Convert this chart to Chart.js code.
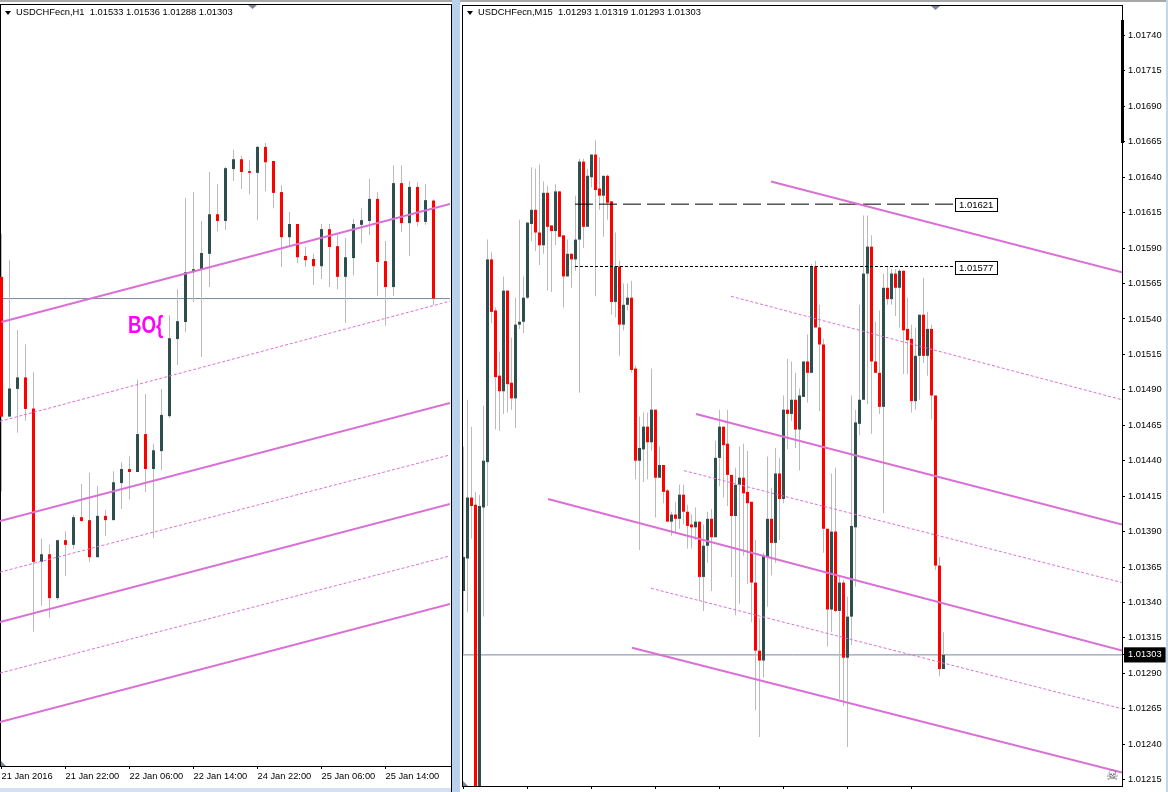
<!DOCTYPE html>
<html>
<head>
<meta charset="utf-8">
<script src="https://cdn.jsdelivr.net/npm/chart.js@4"></script>
<style>
html, body { margin: 0; padding: 0; background: #fff; overflow: hidden; }
body { width: 1168px; height: 792px; position: relative; }
canvas { position: absolute; top: 0; }
#h1Chart { left: 0; }
#m15Chart { left: 462px; }
.frame { position: absolute; }
.head { position: absolute; top: 7px; font: 9.35px "Liberation Sans", sans-serif; color: #000; white-space: pre; }
.tri { position: absolute; }
.down { clip-path: polygon(0 0, 100% 0, 50% 100%); }
.corner { clip-path: polygon(0 0, 100% 100%, 0 100%); background: #778899; }
</style>
</head>
<body>
<div class="frame" style="left:0;top:0;width:1168px;height:2px;background:#a8a8a8"></div>
<div class="frame" style="left:0;top:788px;width:451px;height:4px;background:#d3e2f2"></div>
<div class="frame" style="left:452px;top:0;width:8px;height:792px;background:#b9d1ea"></div>
<div class="frame" style="left:1166px;top:0;width:2px;height:792px;background:#c4d6ea"></div>
<div class="frame" style="left:0;top:4px;width:451px;height:1px;background:#000"></div>
<div class="frame" style="left:0;top:4px;width:1px;height:762px;background:#000"></div>
<div class="frame" style="left:451px;top:4px;width:1px;height:788px;background:#000"></div>
<div class="frame" style="left:462px;top:5px;width:661px;height:1px;background:#000"></div>
<div class="frame" style="left:462px;top:5px;width:1px;height:782px;background:#000"></div>
<div class="frame" style="left:1121px;top:20px;width:3px;height:123px;background:#000"></div>
<div class="tri down" style="left:5px;top:11px;width:6px;height:4px;background:#000"></div>
<div class="tri down" style="left:467px;top:11px;width:6px;height:4px;background:#000"></div>
<div class="tri down" style="left:248px;top:5px;width:9px;height:4px;background:#778899"></div>
<div class="tri down" style="left:931px;top:6px;width:9px;height:4px;background:#778899"></div>
<div class="tri corner" style="left:1px;top:761px;width:5px;height:5px"></div>
<div class="tri corner" style="left:463px;top:781px;width:5px;height:5px"></div>
<canvas id="h1Chart" width="451" height="788"></canvas>
<canvas id="m15Chart" width="706" height="792"></canvas>
<div class="head" id="h1Head" style="left:16px"></div>
<div class="head" id="m15Head" style="left:478px"></div>
<script>
const h1Title = "USDCHFecn,H1  1.01533 1.01536 1.01288 1.01303";
const m15Title = "USDCHFecn,M15  1.01293 1.01319 1.01293 1.01303";

const h1Open = [1.01354,1.01026,1.01091,1.01118,1.01045,1.00685,1.00703,1.00600,1.00736,1.00725,1.00790,1.00783,1.00696,1.00793,1.00783,1.00870,1.00903,1.00896,1.00985,1.00903,1.00945,1.01027,1.01208,1.01248,1.01365,1.01372,1.01408,1.01501,1.01485,1.01607,1.01630,1.01602,1.01598,1.01659,1.01626,1.01553,1.01447,1.01478,1.01403,1.01396,1.01379,1.01466,1.01426,1.01354,1.01398,1.01476,1.01485,1.01537,1.01391,1.01330,1.01574,1.01480,1.01565,1.01483,1.01533];
const h1Close = [1.01026,1.01092,1.01118,1.01044,1.00685,1.00703,1.00600,1.00736,1.00725,1.00790,1.00781,1.00696,1.00793,1.00783,1.00872,1.00903,1.00896,1.00985,1.00903,1.00947,1.01030,1.01210,1.01250,1.01365,1.01372,1.01410,1.01501,1.01485,1.01609,1.01630,1.01600,1.01598,1.01659,1.01623,1.01551,1.01447,1.01478,1.01400,1.01393,1.01379,1.01466,1.01424,1.01354,1.01400,1.01478,1.01487,1.01537,1.01389,1.01330,1.01574,1.01480,1.01565,1.01483,1.01534,1.01303];
const h1High = [1.01456,1.01393,1.01229,1.01196,1.01130,1.00740,1.00725,1.00736,1.00757,1.00795,1.00868,1.00894,1.00863,1.00807,1.00898,1.00919,1.00933,1.01113,1.01079,1.00962,1.01091,1.01264,1.01325,1.01539,1.01553,1.01485,1.01600,1.01572,1.01612,1.01652,1.01638,1.01628,1.01661,1.01668,1.01626,1.01569,1.01506,1.01478,1.01424,1.01408,1.01478,1.01478,1.01452,1.01445,1.01490,1.01515,1.01584,1.01553,1.01438,1.01616,1.01616,1.01579,1.01576,1.01572,1.01536];
const h1Low = [1.00850,1.01026,1.00988,1.01016,1.00521,1.00582,1.00554,1.00595,1.00652,1.00715,1.00779,1.00685,1.00696,1.00746,1.00783,1.00809,1.00832,1.00896,1.00849,1.00741,1.00900,1.01023,1.01147,1.01224,1.01295,1.01166,1.01330,1.01461,1.01464,1.01579,1.01560,1.01548,1.01487,1.01555,1.01515,1.01377,1.01424,1.01386,1.01377,1.01335,1.01349,1.01330,1.01325,1.01246,1.01358,1.01433,1.01452,1.01309,1.01239,1.01309,1.01459,1.01403,1.01473,1.01476,1.01288];

const m15Open = [1.01348,1.01371,1.01414,1.01409,1.01200,1.01407,1.01439,1.01582,1.01546,1.01500,1.01489,1.01560,1.01495,1.01484,1.01536,1.01538,1.01555,1.01607,1.01617,1.01601,1.01592,1.01629,1.01606,1.01602,1.01630,1.01599,1.01570,1.01586,1.01582,1.01596,1.01651,1.01605,1.01640,1.01656,1.01632,1.01627,1.01641,1.01623,1.01552,1.01577,1.01536,1.01550,1.01555,1.01505,1.01440,1.01448,1.01464,1.01453,1.01476,1.01428,1.01437,1.01419,1.01397,1.01402,1.01399,1.01416,1.01404,1.01395,1.01393,1.01397,1.01358,1.01380,1.01399,1.01386,1.01442,1.01464,1.01452,1.01430,1.01401,1.01423,1.01428,1.01418,1.01411,1.01354,1.01306,1.01299,1.01372,1.01399,1.01382,1.01431,1.01413,1.01476,1.01473,1.01483,1.01462,1.01485,1.01510,1.01502,1.01577,1.01534,1.01522,1.01392,1.01335,1.01390,1.01334,1.01354,1.01301,1.01330,1.01393,1.01466,1.01483,1.01572,1.01591,1.01510,1.01502,1.01478,1.01562,1.01554,1.01572,1.01562,1.01574,1.01533,1.01526,1.01482,1.01514,1.01543,1.01514,1.01533,1.01486,1.01366,1.01293];
const m15Close = [1.01372,1.01414,1.01408,1.01200,1.01408,1.01440,1.01582,1.01545,1.01499,1.01489,1.01560,1.01494,1.01484,1.01536,1.01538,1.01555,1.01608,1.01617,1.01601,1.01592,1.01629,1.01605,1.01602,1.01630,1.01598,1.01570,1.01586,1.01582,1.01596,1.01651,1.01605,1.01641,1.01656,1.01631,1.01627,1.01641,1.01622,1.01552,1.01577,1.01536,1.01550,1.01555,1.01504,1.01440,1.01449,1.01464,1.01453,1.01476,1.01428,1.01437,1.01418,1.01397,1.01402,1.01399,1.01416,1.01404,1.01394,1.01393,1.01397,1.01358,1.01380,1.01399,1.01386,1.01442,1.01464,1.01451,1.01430,1.01401,1.01423,1.01428,1.01417,1.01410,1.01354,1.01306,1.01299,1.01373,1.01399,1.01382,1.01431,1.01413,1.01476,1.01473,1.01483,1.01462,1.01486,1.01510,1.01502,1.01577,1.01534,1.01522,1.01392,1.01335,1.01390,1.01334,1.01354,1.01301,1.01330,1.01394,1.01467,1.01483,1.01572,1.01591,1.01510,1.01502,1.01478,1.01562,1.01554,1.01572,1.01562,1.01574,1.01532,1.01525,1.01482,1.01514,1.01543,1.01514,1.01533,1.01486,1.01366,1.01293,1.01303];
const m15High = [1.01450,1.01483,1.01464,1.01418,1.01416,1.01479,1.01596,1.01587,1.01548,1.01517,1.01570,1.01560,1.01527,1.01555,1.01610,1.01570,1.01608,1.01647,1.01646,1.01649,1.01637,1.01634,1.01606,1.01635,1.01630,1.01599,1.01596,1.01586,1.01627,1.01653,1.01653,1.01646,1.01656,1.01666,1.01654,1.01641,1.01642,1.01623,1.01601,1.01581,1.01565,1.01565,1.01567,1.01507,1.01471,1.01474,1.01474,1.01505,1.01476,1.01450,1.01437,1.01420,1.01404,1.01411,1.01423,1.01423,1.01409,1.01402,1.01407,1.01397,1.01395,1.01404,1.01406,1.01454,1.01476,1.01464,1.01476,1.01430,1.01435,1.01450,1.01452,1.01447,1.01411,1.01384,1.01329,1.01375,1.01443,1.01421,1.01449,1.01442,1.01486,1.01512,1.01510,1.01502,1.01491,1.01510,1.01529,1.01579,1.01581,1.01550,1.01526,1.01392,1.01431,1.01435,1.01358,1.01356,1.01344,1.01486,1.01476,1.01550,1.01613,1.01613,1.01599,1.01538,1.01546,1.01572,1.01577,1.01575,1.01575,1.01575,1.01574,1.01555,1.01536,1.01534,1.01543,1.01569,1.01545,1.01536,1.01486,1.01372,1.01319];
const m15Low = [1.01304,1.01333,1.01385,1.01200,1.01200,1.01330,1.01408,1.01537,1.01462,1.01461,1.01473,1.01474,1.01476,1.01463,1.01533,1.01530,1.01554,1.01595,1.01588,1.01578,1.01586,1.01560,1.01559,1.01592,1.01598,1.01548,1.01570,1.01562,1.01574,1.01488,1.01590,1.01605,1.01633,1.01556,1.01617,1.01598,1.01610,1.01543,1.01541,1.01514,1.01532,1.01546,1.01502,1.01427,1.01377,1.01425,1.01427,1.01447,1.01400,1.01428,1.01410,1.01397,1.01387,1.01389,1.01392,1.01395,1.01378,1.01378,1.01384,1.01341,1.01334,1.01368,1.01348,1.01386,1.01422,1.01414,1.01408,1.01358,1.01331,1.01339,1.01373,1.01353,1.01326,1.01264,1.01245,1.01287,1.01337,1.01359,1.01368,1.01384,1.01410,1.01448,1.01468,1.01449,1.01433,1.01485,1.01481,1.01502,1.01534,1.01475,1.01375,1.01309,1.01319,1.01333,1.01272,1.01267,1.01238,1.01310,1.01351,1.01458,1.01483,1.01480,1.01459,1.01502,1.01473,1.01403,1.01550,1.01550,1.01542,1.01534,1.01501,1.01501,1.01474,1.01476,1.01483,1.01509,1.01500,1.01469,1.01363,1.01288,1.01293];

const h1XLabels = ["21 Jan 2016","21 Jan 22:00","22 Jan 06:00","22 Jan 14:00","24 Jan 22:00","25 Jan 06:00","25 Jan 14:00"];
const h1XTicks = [0,8,16,24,32,40,48];
const m15XTicks = [0,16,32,48,64,80,96,112];
const m15YTicks = [1.01740,1.01715,1.01690,1.01665,1.01640,1.01615,1.01590,1.01565,1.01540,1.01515,1.01490,1.01465,1.01440,1.01415,1.01390,1.01365,1.01340,1.01315,1.01303,1.01290,1.01265,1.01240,1.01215];
const lastPrice = 1.01303;

// trendlines: [startBar, startPrice, endBar, endPrice]
const h1Solid = [[0,1.01248,56.06,1.01525],[-0.19,1.00781,56.06,1.01058],[-0.19,1.00544,56.06,1.00821],[-0.19,1.00309,56.06,1.00586]];
const h1Dashed = [[-0.19,1.01015,56.06,1.01297],[-0.19,1.00661,56.06,1.00936],[-0.19,1.00424,56.06,1.00699]];
const m15Solid = [[76.875,1.01637,164.625,1.01573],[58.125,1.01473,164.625,1.01395],[21.125,1.01413,164.625,1.01306],[42.125,1.01308,164.625,1.01220]];
const m15Dashed = [[66.875,1.01556,164.625,1.01483],[55.125,1.01433,164.625,1.01354],[46.875,1.01350,164.625,1.01265]];
const m15Levels = [1.01621,1.01577];
const levelStartBar = 27.875;
const levelEndBar = 122.875;

const bull = "#2f4f4f", bear = "#ff0000", wick = "#bbbbbb", trend = "#da70d6", bid = "#778899";

function candles(open, high, low, close) {
  return [
    {
      order: 2,
      stack: "candle",
      data: open.map((o, i) => ({ x: i, y: [low[i], high[i]] })),
      backgroundColor: wick,
      barThickness: 1,
      inflateAmount: 0,
    },
    {
      order: 1,
      stack: "candle",
      data: open.map((o, i) => ({ x: i, y: [Math.min(o, close[i]), Math.max(o, close[i])] })),
      backgroundColor: open.map((o, i) => (close[i] >= o ? bull : bear)),
      barThickness: 3,
      inflateAmount: 0,
    },
  ];
}

function line(seg, width, dash, color, order) {
  return {
    type: "line",
    order: order,
    data: [{ x: seg[0], y: seg[1] }, { x: seg[2], y: seg[3] }],
    borderColor: color,
    borderWidth: width,
    borderDash: dash,
    pointRadius: 0,
    fill: false,
  };
}

function trendlines(solid, dashed) {
  return solid.map((s) => line(s, 2, [], trend, 0)).concat(dashed.map((s) => line(s, 1, [3, 2], trend, 0)));
}

// chart objects that MT4 puts on top: text and price labels
const objectText = {
  id: "objectText",
  afterDatasetsDraw(chart, args, opts) {
    const ctx = chart.ctx, x = chart.scales.x, y = chart.scales.y;
    ctx.save();
    (opts.texts || []).forEach((t) => {
      ctx.save();
      ctx.font = t.font;
      ctx.fillStyle = t.color;
      ctx.textBaseline = "alphabetic";
      ctx.translate(x.getPixelForValue(t.bar), y.getPixelForValue(t.price));
      ctx.scale(t.squeeze || 1, 1);
      ctx.fillText(t.text, 0, 0);
      ctx.restore();
    });
    (opts.levels || []).forEach((price) => {
      const px = x.getPixelForValue(levelEndBar), py = Math.round(y.getPixelForValue(price));
      ctx.fillStyle = "#fff";
      ctx.strokeStyle = "#000";
      ctx.lineWidth = 1;
      ctx.fillRect(px, py - 6, 42, 13);
      ctx.strokeRect(px + 0.5, py - 5.5, 42, 13);
      ctx.fillStyle = "#000";
      ctx.font = '9.5px "Liberation Sans"';
      ctx.textBaseline = "middle";
      ctx.fillText(price.toFixed(5), px + 4, py + 1);
    });
    ctx.restore();
  },
};

document.getElementById("h1Head").textContent = h1Title;
document.getElementById("m15Head").textContent = m15Title;

new Chart(document.getElementById("h1Chart"), {
  type: "bar",
  data: {
    datasets: [
      ...trendlines(h1Solid, h1Dashed),
      ...candles(h1Open, h1High, h1Low, h1Close),
      line([-0.19, lastPrice, 56.06, lastPrice], 1, [], bid, 3),
    ],
  },
  plugins: [objectText],
  options: {
    responsive: false,
    animation: false,
    layout: { padding: { top: 5, right: 1, left: 0, bottom: 0 } },
    plugins: {
      legend: { display: false },
      tooltip: { enabled: false },
      objectText: { texts: [{ text: "BO{", bar: 15.81, price: 1.01222, color: "#ff00ff", squeeze: 0.78, font: 'bold 24px "Liberation Sans"' }] },
    },
    scales: {
      x: {
        type: "linear",
        offset: false,
        min: -0.1875,
        max: 56.0625,
        afterBuildTicks: (s) => { s.ticks = h1XTicks.map((v) => ({ value: v })); },
        afterFit: (s) => { s.height = 22; s.paddingLeft = 0; s.paddingRight = 0; },
        border: { color: "#000" },
        grid: { offset: false, drawOnChartArea: false, tickLength: 3, tickColor: "#000" },
        ticks: {
          autoSkip: false,
          maxRotation: 0,
          align: "start",
          padding: 2,
          color: "#000",
          font: { family: "Liberation Sans", size: 9.3 },
          callback: (v) => h1XLabels[h1XTicks.indexOf(v)],
        },
      },
      y: { display: false, stacked: false, min: 1.00206, max: 1.01992 },
    },
  },
});

new Chart(document.getElementById("m15Chart"), {
  type: "bar",
  data: {
    datasets: [
      ...trendlines(m15Solid, m15Dashed),
      line([levelStartBar, m15Levels[0], levelEndBar, m15Levels[0]], 1, [18, 6], "#000", 0),
      line([levelStartBar, m15Levels[1], levelEndBar, m15Levels[1]], 1, [3, 2], "#000", 0),
      ...candles(m15Open, m15High, m15Low, m15Close),
      line([-0.125, lastPrice, 164.625, lastPrice], 1, [], bid, 3),
    ],
  },
  plugins: [objectText],
  options: {
    responsive: false,
    animation: false,
    layout: { padding: { top: 5, right: 0, left: 1, bottom: 0 } },
    plugins: {
      legend: { display: false },
      tooltip: { enabled: false },
      objectText: {
        levels: m15Levels,
        texts: [{ text: "\u2620", bar: 160.6, price: 1.01215, color: "#555", font: '14px "DejaVu Sans"' }],
      },
    },
    scales: {
      x: {
        type: "linear",
        offset: false,
        min: -0.125,
        max: 164.625,
        afterBuildTicks: (s) => { s.ticks = m15XTicks.map((v) => ({ value: v })); },
        afterFit: (s) => { s.height = 6; s.paddingLeft = 0; s.paddingRight = 0; },
        border: { color: "#000" },
        grid: { offset: false, drawOnChartArea: false, tickLength: 3, tickColor: "#000" },
        ticks: { autoSkip: false, maxRotation: 0, padding: 0, callback: () => "" },
      },
      y: {
        position: "right",
        stacked: false,
        min: 1.012105,
        max: 1.017615,
        afterBuildTicks: (s) => { s.ticks = m15YTicks.map((v) => ({ value: v })); },
        afterFit: (s) => { s.width = 46; s.paddingTop = 0; s.paddingBottom = 0; },
        border: { color: "#000" },
        grid: { drawOnChartArea: false, tickLength: 3, tickColor: "#000" },
        ticks: {
          autoSkip: false,
          padding: 3,
          color: (c) => (c.tick.value === lastPrice ? "#fff" : "#000"),
          font: { family: "Liberation Sans", size: 9.3 },
          callback: (v) => v.toFixed(5),
          showLabelBackdrop: true,
          backdropColor: (c) => (c.tick.value === lastPrice ? "#000" : "rgba(0,0,0,0)"),
          backdropPadding: { x: 4, y: 2 },
        },
      },
    },
  },
});
</script>
</body>
</html>
